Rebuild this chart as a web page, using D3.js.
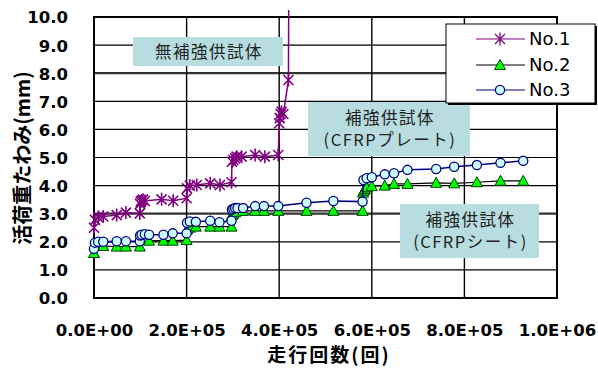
<!DOCTYPE html>
<html><head><meta charset="utf-8">
<script src="https://cdn.jsdelivr.net/npm/d3@7"></script>
<style>
html,body{margin:0;padding:0;background:#fff;}
svg{display:block;}
</style>
</head><body>
<svg id="c" width="598" height="368"></svg>
<script>
// ---- data ----
const seriesNames = ["No.1", "No.2", "No.3"];
const no1 = [
  [0,2.5],[2200,2.78],[9000,2.88],[20000,2.9],[49000,2.95],[69000,3.04],[99000,3.01],
  [99500,3.35],[101000,3.43],[103000,3.47],[106000,3.5],[110000,3.45],[146000,3.51],[171000,3.46],[200000,3.55],
  [201000,3.9],[207000,4.0],[222000,4.02],[251000,4.08],[272000,4.02],[297000,4.12],
  [298000,4.85],[301000,4.91],[305000,4.97],[308000,5.03],[319000,5.03],[348000,5.09],[369000,5.03],[398000,5.09],
  [400000,6.22],[401000,6.4],[403000,6.55],[405000,6.63],[409000,6.55],[420000,7.76],[420500,10.25]
];
const no2 = [
  [0,1.6],[9000,1.85],[20000,1.85],[49000,1.83],[69000,1.83],[99000,1.83],
  [119000,2.04],[150000,2.04],[170000,2.04],[200000,2.06],
  [201000,2.44],[207000,2.5],[220000,2.54],[251000,2.54],[271000,2.54],[297000,2.54],
  [298000,2.95],[301000,3.0],[305000,3.05],[322000,3.1],[348000,3.1],[367000,3.1],[398000,3.1],[459000,3.1],[517000,3.1],[580000,3.1],
  [581000,3.75],[583000,3.82],[585000,3.88],[589000,3.94],[600000,3.98],[628000,4.0],[648000,4.06],[677000,4.06],
  [739000,4.1],[778000,4.08],[827000,4.12],[878000,4.17],[927000,4.17]
];
const no3 = [
  [0,1.75],[2200,1.97],[9000,2.0],[20000,2.0],[49000,2.02],[69000,2.02],[99000,2.02],
  [99500,2.22],[103000,2.25],[110000,2.27],[119000,2.25],[150000,2.25],[170000,2.3],[200000,2.3],
  [201000,2.68],[207000,2.72],[220000,2.71],[251000,2.75],[271000,2.7],[297000,2.75],
  [298000,3.15],[301000,3.18],[305000,3.2],[310000,3.2],[322000,3.2],[348000,3.27],[367000,3.27],[398000,3.27],
  [459000,3.39],[517000,3.45],[580000,3.43],
  [582000,4.2],[589000,4.26],[600000,4.3],[628000,4.4],[648000,4.44],[677000,4.56],
  [739000,4.59],[778000,4.67],[827000,4.73],[878000,4.81],[927000,4.88]
];
const xTickValues = [0, 200000, 400000, 600000, 800000, 1000000];
const xTickLabels = ["0.0E+00","2.0E+05","4.0E+05","6.0E+05","8.0E+05","1.0E+06"];
const yTickValues = [0,1,2,3,4,5,6,7,8,9,10];
const yTickLabels = ["0.0","1.0","2.0","3.0","4.0","5.0","6.0","7.0","8.0","9.0","10.0"];
const xTitle = "走行回数(回)";
const yTitle = "活荷重たわみ(mm)";
const noteLines = [["無補強供試体"], ["補強供試体","(CFRPプレート)"], ["補強供試体","(CFRPシート)"]];
const noteAnchors = [[246000, 8.77], [637000, 6.01], [811000, 2.38]];

// ---- layout ----
const svg = d3.select("#c");
const L = 94, R = 557, T = 17, B = 298;
const x = d3.scaleLinear().domain([0, 1000000]).range([L, R]);
const y = d3.scaleLinear().domain([0, 10]).range([B, T]);
const numFont = "'DejaVu Sans', sans-serif";
const cjkFont = "'Noto Sans CJK JP', sans-serif";

// gridlines
const g = svg.append("g");
g.selectAll("line.h").data(yTickValues.slice(1, -1)).enter().append("line")
  .attr("x1", L).attr("x2", R).attr("y1", d => y(d)).attr("y2", d => y(d))
  .attr("stroke", d => (d === 3 || d === 8) ? "#333" : "#000")
  .attr("stroke-width", d => (d === 3 || d === 8) ? 2.2 : 1.2);
g.selectAll("line.v").data(xTickValues.slice(1, -1)).enter().append("line")
  .attr("y1", T).attr("y2", B).attr("x1", d => x(d)).attr("x2", d => x(d))
  .attr("stroke", "#000").attr("stroke-width", 1.4);

// axes (labels only)
const yAxis = d3.axisLeft(y).tickValues(yTickValues).tickSize(0).tickPadding(0)
  .tickFormat((d, i) => yTickLabels[i]);
const ya = svg.append("g").attr("transform", `translate(${68},0)`).call(yAxis);
ya.select(".domain").remove();
ya.selectAll("text").attr("font-family", numFont).attr("font-weight", "bold")
  .attr("font-size", 16.5).attr("fill", "#000").attr("dy", "0.36em").attr("x", 0);

const xAxis = d3.axisBottom(x).tickValues(xTickValues).tickSize(0).tickPadding(0)
  .tickFormat((d, i) => xTickLabels[i]);
const xa = svg.append("g").attr("transform", `translate(0,${B})`).call(xAxis);
xa.select(".domain").remove();
xa.selectAll("text").attr("font-family", numFont).attr("font-weight", "bold")
  .attr("font-size", 16.5).attr("fill", "#000").attr("dy", null).attr("y", 38);

// plot frame
svg.append("rect").attr("x", L).attr("y", T).attr("width", R - L).attr("height", B - T)
  .attr("fill", "none").attr("stroke", "#000").attr("stroke-width", 2);

// titles
svg.append("text").attr("x", 329).attr("y", 362).attr("text-anchor", "middle")
  .attr("font-family", cjkFont).attr("font-weight", "bold").attr("font-size", 19)
  .attr("letter-spacing", 2).attr("fill", "#000").text(xTitle);
svg.append("text").attr("transform", `translate(30,${158}) rotate(-90)`).attr("text-anchor", "middle")
  .attr("font-family", cjkFont).attr("font-weight", "bold").attr("font-size", 20)
  .attr("fill", "#000").text(yTitle);

// annotation boxes
const boxSizes = [[150, 29], [162, 54], [139, 54]];
noteLines.forEach((lines, i) => {
  const cx = x(noteAnchors[i][0]), cy = y(noteAnchors[i][1]);
  const [w, h] = boxSizes[i];
  const gg = svg.append("g");
  gg.append("rect").attr("x", cx - w / 2).attr("y", cy - h / 2).attr("width", w).attr("height", h)
    .attr("fill", "#b7dde1");
  const lh = 22;
  lines.forEach((t, j) => {
    gg.append("text").attr("x", cx + 1).attr("y", cy - (lines.length - 1) * lh / 2 + j * lh)
      .attr("dy", "0.36em").attr("text-anchor", "middle")
      .attr("font-family", cjkFont).attr("font-size", 16.5).attr("letter-spacing", 1.5)
      .attr("fill", "#222").text(t);
  });
});

// series
const line = d3.line().x(d => x(d[0])).y(d => y(d[1]));
const styles = [
  {data: no1, stroke: "#800080", w: 1.5},
  {data: no2, stroke: "#000", w: 1.2},
  {data: no3, stroke: "#000080", w: 1.5}
];
const star = "M-5,-5L5,5M-5,5L5,-5M0,-6.5L0,6.5";
const tri = "M0,-5.5L5.5,4.5L-5.5,4.5Z";

function drawMarkers(gg, data, type) {
  data.filter(d => d[1] <= 10).forEach(d => {
    const t = `translate(${x(d[0])},${y(d[1])})`;
    if (type === 0) {
      gg.append("path").attr("d", star).attr("transform", t)
        .attr("stroke", "#800080").attr("stroke-width", 1.6).attr("fill", "none");
    } else if (type === 1) {
      gg.append("path").attr("d", tri).attr("transform", t)
        .attr("fill", "#00ff00").attr("stroke", "#004000").attr("stroke-width", 1);
    } else {
      gg.append("circle").attr("cx", x(d[0])).attr("cy", y(d[1])).attr("r", 4.6)
        .attr("fill", "#ccffff").attr("stroke", "#000080").attr("stroke-width", 1.3);
    }
  });
}
styles.forEach((s, i) => {
  const gg = svg.append("g");
  gg.append("path").datum(s.data).attr("d", line).attr("fill", "none")
    .attr("stroke", s.stroke).attr("stroke-width", s.w);
  drawMarkers(gg, s.data, i);
});

// legend
const lg = svg.append("g");
lg.append("rect").attr("x", 448).attr("y", 26).attr("width", 149).attr("height", 79).attr("fill", "#000");
lg.append("rect").attr("x", 446).attr("y", 24).attr("width", 149).attr("height", 79)
  .attr("fill", "#fff").attr("stroke", "#000").attr("stroke-width", 1);
const ly = [39, 65, 90];
seriesNames.forEach((nm, i) => {
  lg.append("line").attr("x1", 476).attr("x2", 525).attr("y1", ly[i]).attr("y2", ly[i])
    .attr("stroke", styles[i].stroke).attr("stroke-width", 1.2);
  const mg = lg.append("g");
  const px = 500, py = ly[i];
  if (i === 0) mg.append("path").attr("d", star).attr("transform", `translate(${px},${py})`)
    .attr("stroke", "#800080").attr("stroke-width", 1.3).attr("fill", "none");
  else if (i === 1) mg.append("path").attr("d", tri).attr("transform", `translate(${px},${py})`)
    .attr("fill", "#00ff00").attr("stroke", "#004000").attr("stroke-width", 1);
  else mg.append("circle").attr("cx", px).attr("cy", py).attr("r", 4.6)
    .attr("fill", "#ccffff").attr("stroke", "#000080").attr("stroke-width", 1.3);
  lg.append("text").attr("x", 529).attr("y", ly[i]).attr("dy", "0.36em")
    .attr("font-family", numFont).attr("font-size", 18).attr("fill", "#000").text(nm);
});
</script>
</body></html>
